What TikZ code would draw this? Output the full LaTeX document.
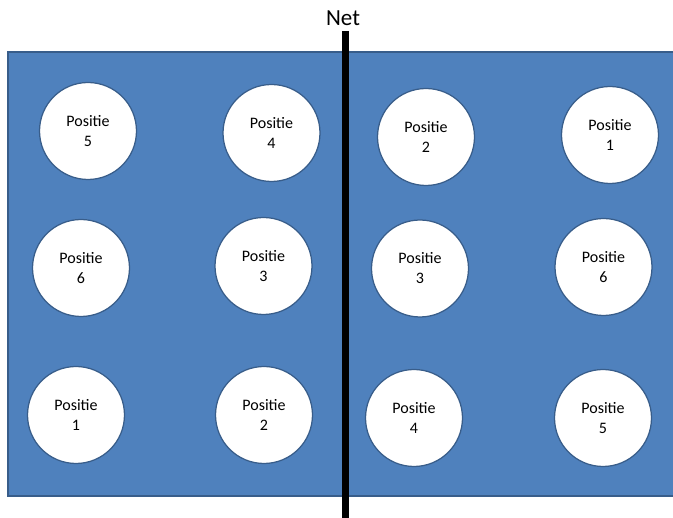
\documentclass[tikz,border=0pt]{standalone}
\usepackage{fontspec}
\setmainfont{Carlito}
\usetikzlibrary{positioning}
\definecolor{court}{HTML}{4F81BD}
\definecolor{courtline}{HTML}{385D8A}

\begin{document}
\begin{tikzpicture}[x=1pt, y=-1pt,
    spot/.style = {draw=courtline, line width=1.25pt, fill=white, circle, minimum size=97pt, inner sep=0pt, align=center, font=\fontsize{16}{20}\selectfont},
    netline/.style = {line width=7pt}]
		\useasboundingbox (0,0) rectangle (673,518);
		\draw[fill=court, draw=courtline, line width=2pt] (8,52) rectangle (678,496);
		% left half
		\node[spot] (l5) at (88,131) {Positie\\5};
		\node[spot] (l4) at (271.5,133) {Positie\\4};
		\node[spot] (l6) at (81,268) {Positie\\6};
		\node[spot] (l3) at (263.5,266) {Positie\\3};
		\node[spot] (l1) at (76,415) {Positie\\1};
		\node[spot] (l2) at (264,415) {Positie\\2};
		% right half
		\node[spot] (r2) at (426,137) {Positie\\2};
		\node[spot] (r1) at (610,135) {Positie\\1};
		\node[spot] (r3) at (420,268.5) {Positie\\3};
		\node[spot] (r6) at (603.5,267) {Positie\\6};
		\node[spot] (r4) at (414,418) {Positie\\4};
		\node[spot] (r5) at (603,418) {Positie\\5};
		% net
		\node[anchor=base, font=\fontsize{23}{26}\selectfont, inner sep=0pt] (net) at (343,26) {Net};
		\coordinate (nettop) at (345.5,31);
		\coordinate (netbot) at (345.5,520);
		\draw[netline] (nettop) -- (netbot);
	\end{tikzpicture}
\end{document}
